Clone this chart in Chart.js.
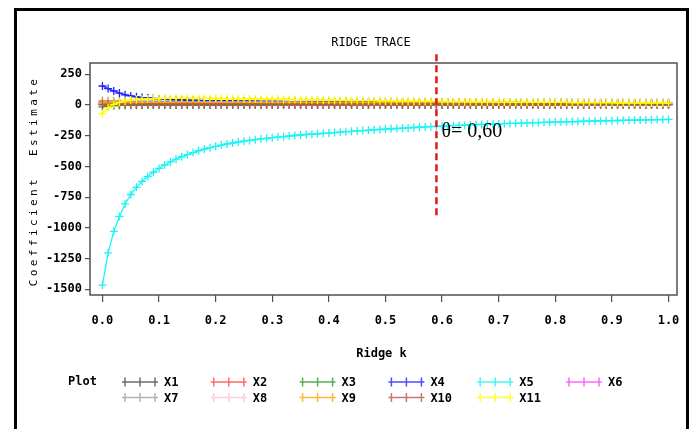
<!DOCTYPE html>
<html>
<head>
<meta charset="utf-8">
<script src="https://cdn.jsdelivr.net/npm/chart.js@4/dist/chart.umd.min.js"></script>
<style>
  html, body { margin: 0; padding: 0; background: #fff; }
  canvas { display: block; }
</style>
</head>
<body>
<canvas id="ridge" width="693" height="429"></canvas>
<script>
// ridge parameter k
const kValues = [
    0.00, 0.01, 0.02, 0.03, 0.04, 0.05, 0.06, 0.07, 0.08, 0.09,
    0.10, 0.11, 0.12, 0.13, 0.14, 0.15, 0.16, 0.17, 0.18, 0.19,
    0.20, 0.21, 0.22, 0.23, 0.24, 0.25, 0.26, 0.27, 0.28, 0.29,
    0.30, 0.31, 0.32, 0.33, 0.34, 0.35, 0.36, 0.37, 0.38, 0.39,
    0.40, 0.41, 0.42, 0.43, 0.44, 0.45, 0.46, 0.47, 0.48, 0.49,
    0.50, 0.51, 0.52, 0.53, 0.54, 0.55, 0.56, 0.57, 0.58, 0.59,
    0.60, 0.61, 0.62, 0.63, 0.64, 0.65, 0.66, 0.67, 0.68, 0.69,
    0.70, 0.71, 0.72, 0.73, 0.74, 0.75, 0.76, 0.77, 0.78, 0.79,
    0.80, 0.81, 0.82, 0.83, 0.84, 0.85, 0.86, 0.87, 0.88, 0.89,
    0.90, 0.91, 0.92, 0.93, 0.94, 0.95, 0.96, 0.97, 0.98, 0.99,
    1.00
];

const X1 = [
    18, 15, 13, 12, 12, 11, 11, 11, 11, 10,
    10, 10, 10, 10, 10, 10, 10, 10, 10, 10,
    10, 10, 10, 10, 10, 10, 10, 10, 10, 10,
    10, 10, 10, 10, 10, 10, 10, 10, 10, 10,
    10, 10, 10, 10, 10, 9, 9, 9, 9, 9,
    9, 9, 9, 9, 9, 9, 9, 9, 9, 9,
    9, 9, 9, 9, 9, 9, 9, 9, 9, 9,
    9, 9, 9, 9, 9, 9, 9, 9, 9, 9,
    8, 8, 8, 8, 8, 8, 8, 8, 8, 8,
    8, 8, 8, 8, 8, 8, 8, 8, 8, 8,
    8
];
const X2 = [
    2, 2, 2, 2, 2, 2, 2, 2, 2, 2,
    2, 2, 2, 2, 2, 2, 2, 2, 2, 2,
    3, 3, 3, 3, 3, 3, 3, 3, 3, 3,
    3, 3, 3, 3, 3, 3, 3, 3, 3, 3,
    3, 3, 3, 3, 3, 3, 3, 3, 3, 3,
    3, 3, 3, 3, 3, 3, 3, 3, 3, 3,
    3, 3, 3, 3, 3, 3, 3, 3, 3, 3,
    3, 3, 3, 3, 3, 3, 3, 3, 3, 3,
    3, 3, 3, 3, 3, 3, 3, 3, 3, 3,
    3, 3, 3, 3, 3, 3, 3, 3, 3, 3,
    3
];
const X3 = [
    -15, -8, -5, -3, -2, -1, -1, 0, 0, 0,
    0, 0, 0, 0, 0, 0, 0, 0, 0, 0,
    0, 0, 0, 0, 0, 0, 0, 0, 0, 0,
    1, 1, 1, 1, 1, 1, 1, 1, 1, 1,
    1, 1, 1, 1, 1, 1, 1, 1, 1, 1,
    1, 1, 1, 1, 1, 1, 1, 1, 1, 1,
    1, 1, 1, 1, 1, 1, 1, 1, 1, 1,
    2, 2, 2, 2, 2, 2, 2, 2, 2, 2,
    2, 2, 2, 2, 2, 2, 2, 2, 2, 2,
    2, 2, 2, 2, 2, 2, 2, 2, 2, 2,
    2
];
const X4 = [
    155, 134, 114, 97, 83, 74, 67, 61, 57, 53,
    50, 47, 45, 43, 41, 39, 38, 37, 36, 35,
    34, 34, 33, 33, 32, 32, 31, 31, 30, 30,
    29, 29, 29, 28, 28, 28, 27, 27, 27, 27,
    26, 26, 26, 26, 25, 25, 25, 25, 25, 24,
    24, 24, 24, 24, 23, 23, 23, 23, 23, 23,
    22, 22, 22, 22, 22, 22, 22, 21, 21, 21,
    21, 21, 21, 21, 21, 20, 20, 20, 20, 20,
    20, 20, 20, 20, 19, 19, 19, 19, 19, 19,
    19, 19, 19, 18, 18, 18, 18, 18, 18, 18,
    18
];
const X5 = [
    -1466, -1203, -1028, -907, -805, -728, -670, -622, -582, -547,
    -516, -488, -463, -441, -421, -403, -387, -372, -359, -347,
    -336, -326, -317, -309, -301, -294, -288, -282, -276, -271,
    -266, -261, -257, -252, -248, -244, -240, -237, -234, -231,
    -228, -224, -221, -217, -214, -211, -208, -205, -202, -199,
    -196, -193, -191, -188, -186, -183, -181, -178, -176, -174,
    -172, -170, -168, -166, -164, -162, -160, -158, -157, -155,
    -153, -152, -150, -149, -147, -146, -144, -143, -141, -140,
    -139, -137, -136, -135, -134, -132, -131, -130, -129, -128,
    -127, -126, -125, -124, -123, -122, -121, -120, -119, -118,
    -117
];
const X6 = [
    12, 10, 9, 9, 8, 8, 8, 8, 8, 8,
    8, 8, 8, 8, 8, 8, 8, 8, 8, 8,
    7, 7, 7, 7, 7, 7, 7, 7, 7, 7,
    7, 7, 7, 7, 7, 7, 7, 7, 7, 7,
    7, 7, 7, 7, 7, 7, 7, 7, 7, 7,
    6, 6, 6, 6, 6, 6, 6, 6, 6, 6,
    6, 6, 6, 6, 6, 6, 6, 6, 6, 6,
    6, 6, 6, 6, 6, 6, 6, 6, 6, 6,
    6, 6, 6, 6, 6, 6, 6, 6, 6, 6,
    6, 6, 6, 6, 6, 6, 6, 6, 6, 6,
    6
];
const X7 = [
    36, 34, 33, 32, 31, 31, 30, 30, 30, 29,
    29, 29, 28, 28, 28, 28, 27, 27, 27, 27,
    26, 26, 26, 26, 25, 25, 25, 25, 24, 24,
    24, 24, 23, 23, 23, 23, 22, 22, 22, 22,
    21, 21, 21, 21, 21, 20, 20, 20, 20, 20,
    19, 19, 19, 19, 19, 19, 18, 18, 18, 18,
    18, 18, 18, 17, 17, 17, 17, 17, 17, 17,
    17, 16, 16, 16, 16, 16, 16, 16, 16, 16,
    16, 16, 15, 15, 15, 15, 15, 15, 15, 15,
    15, 15, 15, 15, 15, 14, 14, 14, 14, 14,
    14
];
const X8 = [
    15, 14, 13, 13, 13, 13, 13, 13, 13, 13,
    13, 13, 13, 13, 13, 13, 13, 13, 13, 13,
    13, 13, 13, 13, 13, 13, 13, 13, 13, 13,
    12, 12, 12, 12, 12, 12, 12, 12, 12, 12,
    12, 12, 12, 12, 12, 12, 12, 12, 12, 12,
    12, 12, 12, 12, 12, 12, 12, 12, 12, 12,
    12, 12, 12, 12, 12, 12, 12, 12, 12, 12,
    12, 12, 12, 12, 12, 12, 12, 12, 12, 12,
    12, 12, 12, 12, 12, 12, 12, 12, 12, 12,
    12, 12, 12, 12, 12, 12, 12, 12, 12, 12,
    12
];
const X9 = [
    28, 24, 22, 21, 21, 20, 20, 20, 20, 20,
    20, 20, 20, 20, 20, 20, 20, 20, 20, 20,
    19, 19, 19, 19, 19, 19, 19, 19, 19, 19,
    19, 19, 18, 18, 18, 18, 18, 18, 18, 18,
    18, 18, 18, 18, 17, 17, 17, 17, 17, 17,
    17, 17, 17, 17, 17, 17, 17, 16, 16, 16,
    16, 16, 16, 16, 16, 16, 16, 16, 16, 16,
    16, 16, 16, 16, 16, 16, 15, 15, 15, 15,
    15, 15, 15, 15, 15, 15, 15, 15, 15, 15,
    15, 15, 15, 15, 15, 15, 15, 15, 15, 15,
    15
];
const X10 = [
    6, 7, 7, 7, 7, 7, 7, 7, 7, 7,
    7, 7, 7, 7, 7, 7, 7, 7, 7, 7,
    7, 7, 7, 7, 7, 7, 7, 7, 7, 7,
    7, 7, 7, 7, 7, 7, 7, 7, 7, 7,
    7, 7, 7, 7, 7, 7, 7, 7, 7, 7,
    7, 7, 7, 7, 7, 7, 7, 7, 7, 7,
    7, 7, 7, 7, 7, 7, 7, 7, 7, 7,
    7, 7, 7, 7, 7, 7, 7, 7, 7, 7,
    7, 7, 7, 7, 7, 7, 7, 7, 7, 7,
    7, 7, 7, 7, 7, 7, 7, 7, 7, 7,
    7
];
const X11 = [
    -70, -21, 6, 22, 33, 40, 45, 48, 50, 52,
    53, 54, 54, 55, 55, 55, 55, 54, 54, 54,
    53, 53, 52, 52, 51, 50, 50, 49, 48, 48,
    47, 46, 45, 45, 44, 43, 42, 42, 41, 40,
    40, 39, 38, 38, 37, 36, 36, 35, 35, 34,
    33, 33, 32, 32, 31, 31, 30, 30, 29, 29,
    28, 28, 28, 27, 27, 26, 26, 26, 25, 25,
    24, 24, 24, 23, 23, 23, 22, 22, 22, 21,
    21, 21, 21, 20, 20, 20, 20, 19, 19, 19,
    19, 18, 18, 18, 18, 18, 17, 17, 17, 17,
    16
];

const seriesNames = ['X1', 'X2', 'X3', 'X4', 'X5', 'X6', 'X7', 'X8', 'X9', 'X10', 'X11'];
const seriesValues = [X1, X2, X3, X4, X5, X6, X7, X8, X9, X10, X11];
const seriesColors = ['#4a4a4a', '#ff4545', '#2e9a2e', '#2020ff', '#1cf4f4', '#ff40ff',
                      '#a0a0a0', '#ffc0cb', '#ffa500', '#c05050', '#ffff00'];

const xTicks = [0.0, 0.1, 0.2, 0.3, 0.4, 0.5, 0.6, 0.7, 0.8, 0.9, 1.0];
const yTicks = [250, 0, -250, -500, -750, -1000, -1250, -1500];

// chosen ridge constant (dashed marker)
const ridgeK = 0.59;
const ridgeLabel = 'θ= 0,60';
const markerSpan = [413, -898];

const monoFont = '"DejaVu Sans Mono", "Liberation Mono", monospace';

let datasets = [];
for (i = 0; i < seriesNames.length; i++) {
    datasets.push({
        label: seriesNames[i],
        data: kValues.map(function (k, j) { return { x: k, y: seriesValues[i][j] }; }),
        borderColor: seriesColors[i],
        backgroundColor: seriesColors[i],
        borderWidth: 1.3,
        pointStyle: 'cross',
        pointRadius: 4,
        pointBorderWidth: 1.3,
        pointHoverRadius: 4,
        tension: 0,
        // X11 drawn last (on top)
        order: seriesNames.length - 1 - i
    });
}

const decorations = {
    id: 'decorations',
    afterDraw(chart) {
        const ctx = chart.ctx;
        const area = chart.chartArea;
        const xs = chart.scales.x;
        const ys = chart.scales.y;
        ctx.save();

        // outer page frame
        ctx.strokeStyle = '#000';
        ctx.lineWidth = 3;
        ctx.strokeRect(15.5, 9.5, 672, 440);

        // plot frame
        ctx.strokeStyle = '#505050';
        ctx.lineWidth = 1.5;
        ctx.strokeRect(area.left, area.top, area.right - area.left, area.bottom - area.top);

        // title
        ctx.fillStyle = '#000';
        ctx.font = '12px ' + monoFont;
        ctx.textAlign = 'center';
        ctx.textBaseline = 'middle';
        ctx.fillText('RIDGE TRACE', 371, 43);

        // x axis title
        ctx.font = 'bold 12px ' + monoFont;
        ctx.fillText('Ridge k', (area.left + area.right) / 2 - 2, 354);

        // y axis title
        ctx.save();
        ctx.translate(34, 183);
        ctx.rotate(-Math.PI / 2);
        ctx.font = '11px ' + monoFont;
        ctx.letterSpacing = '3.4px';
        ctx.fillText('Coefficient  Estimate', 2, 0);
        ctx.restore();

        // dashed marker line
        const mx = xs.getPixelForValue(ridgeK);
        ctx.strokeStyle = '#e01818';
        ctx.lineWidth = 2.5;
        ctx.setLineDash([7, 4]);
        ctx.beginPath();
        ctx.moveTo(mx, ys.getPixelForValue(markerSpan[0]));
        ctx.lineTo(mx, ys.getPixelForValue(markerSpan[1]));
        ctx.stroke();
        ctx.setLineDash([]);

        ctx.fillStyle = '#000';
        ctx.font = '20px "Liberation Serif", "DejaVu Serif", serif';
        ctx.textAlign = 'left';
        ctx.textBaseline = 'alphabetic';
        ctx.fillText(ridgeLabel, mx + 5, ys.getPixelForValue(-262));

        // legend
        ctx.font = 'bold 12px ' + monoFont;
        ctx.textBaseline = 'middle';
        ctx.fillText('Plot', 68, 382);
        for (let n = 0; n < seriesNames.length; n++) {
            const col = n % 6;
            const row = Math.floor(n / 6);
            const x0 = 122 + col * 88.8;
            const y = 382 + row * 15.5;
            ctx.strokeStyle = seriesColors[n];
            ctx.globalAlpha = 0.8;
            ctx.beginPath();
            ctx.moveTo(x0, y);
            ctx.lineTo(x0 + 36, y);
            [3, 18, 33].forEach(function (dx) {
                ctx.moveTo(x0 + dx, y - 4.5);
                ctx.lineTo(x0 + dx, y + 4.5);
            });
            ctx.lineWidth = 1.5;
            ctx.stroke();
            ctx.globalAlpha = 1;
            ctx.fillStyle = '#000';
            ctx.fillText(seriesNames[n], x0 + 42, y + 1);
        }
        ctx.restore();
    }
};

new Chart(document.getElementById('ridge').getContext('2d'), {
    type: 'line',
    data: { datasets: datasets },
    options: {
        responsive: false,
        animation: false,
        devicePixelRatio: 1,
        layout: { padding: { left: 0, right: 16, top: 63, bottom: 0 } },
        plugins: {
            legend: { display: false },
            title: { display: false },
            tooltip: { enabled: false }
        },
        scales: {
            x: {
                type: 'linear',
                min: -0.022,
                max: 1.015,
                afterBuildTicks: function (scale) {
                    scale.ticks = xTicks.map(function (v) { return { value: v }; });
                },
                afterFit: function (scale) { scale.height = 134; },
                ticks: {
                    autoSkip: false,
                    maxRotation: 0,
                    padding: 12,
                    color: '#000',
                    font: { family: monoFont, size: 12, weight: 'bold' },
                    callback: function (v) { return v.toFixed(1); }
                },
                grid: { drawOnChartArea: false, tickLength: 7, color: '#505050', lineWidth: 1.2 },
                border: { display: false }
            },
            y: {
                type: 'linear',
                min: -1546,
                max: 342,
                afterBuildTicks: function (scale) {
                    scale.ticks = yTicks.map(function (v) { return { value: v }; });
                },
                afterFit: function (scale) { scale.width = 90; },
                ticks: {
                    autoSkip: false,
                    padding: 3,
                    color: '#000',
                    font: { family: monoFont, size: 12, weight: 'bold' },
                    callback: function (v) { return String(v); }
                },
                grid: { drawOnChartArea: false, tickLength: 5, color: '#505050', lineWidth: 1.2 },
                border: { display: false }
            }
        }
    },
    plugins: [decorations]
});
</script>
</body>
</html>
